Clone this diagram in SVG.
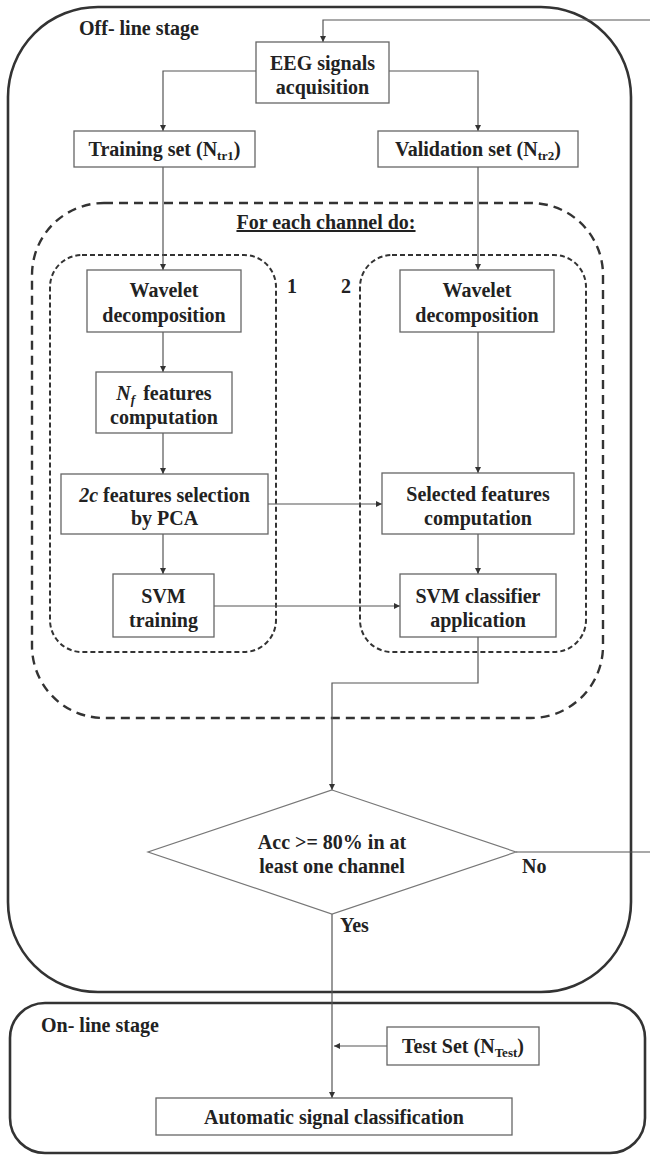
<svg xmlns="http://www.w3.org/2000/svg" width="650" height="1156" viewBox="0 0 650 1156" font-family="Liberation Serif, Times New Roman, DejaVu Serif, serif">
<style>
text{font-family:'Liberation Serif','Times New Roman','DejaVu Serif',serif;font-weight:bold;font-size:20px;fill:#222;}
.c{text-anchor:middle;}
.box{fill:#fff;stroke:#666;stroke-width:1.3;}
.stage{fill:none;stroke:#333;stroke-width:2.6;}
.dash1{fill:none;stroke:#333;stroke-width:2.4;stroke-dasharray:9 6;}
.dash2{fill:none;stroke:#333;stroke-width:2;stroke-dasharray:5 3;}
.conn{fill:none;stroke:#555;stroke-width:1.2;}
.arr{marker-end:url(#ah);}
</style>
<defs>
<marker id="ah" markerWidth="8" markerHeight="8" refX="6" refY="3" orient="auto" markerUnits="userSpaceOnUse">
<path d="M0,0 L6,3 L0,6 z" fill="#333"/>
</marker>
</defs>
<rect width="650" height="1156" fill="#fff"/>

<g id="offline-stage">
<rect class="stage" x="8" y="7" width="623" height="985" rx="90" ry="90"/>
<text x="79" y="35">Off- line stage</text>
</g>
<g id="online-stage">
<rect class="stage" x="10" y="1003" width="635" height="150" rx="35" ry="35"/>
<text x="41" y="1032">On- line stage</text>
</g>
<g id="for-each-channel">
<rect class="dash1" x="32" y="203" width="571" height="515" rx="72" ry="72"/>
<text class="c" x="326" y="229" text-decoration="underline">For each channel do:</text>
</g>
<g id="group-1">
<rect class="dash2" x="50" y="255" width="226" height="397" rx="32" ry="32"/>
<text x="287" y="293">1</text>
</g>
<g id="group-2">
<rect class="dash2" x="360" y="255" width="226" height="397" rx="32" ry="32"/>
<text x="341" y="293">2</text>
</g>

<g id="connectors">
<path class="conn arr" d="M516,852 H652 V20 H323 V42"/>
<path class="conn arr" d="M256,71 H163 V131"/>
<path class="conn arr" d="M389,71 H478 V131"/>
<path class="conn arr" d="M163,167 V270"/>
<path class="conn arr" d="M478,167 V270"/>
<path class="conn arr" d="M163,332 V372"/>
<path class="conn arr" d="M163,433 V474"/>
<path class="conn arr" d="M163,534 V574"/>
<path class="conn arr" d="M478,332 V473"/>
<path class="conn arr" d="M268,504 H382"/>
<path class="conn arr" d="M214,606 H400"/>
<path class="conn arr" d="M478,534 V574"/>
<path class="conn arr" d="M478,637 V683 H332 V790"/>
<path class="conn arr" d="M332,914 V1098"/>
<path class="conn arr" d="M387,1046 H334"/>
</g>

<g id="eeg">
<rect class="box" x="256" y="42" width="133" height="61"/>
<text class="c" x="322.5" y="70">EEG signals</text>
<text class="c" x="322.5" y="94">acquisition</text>
</g>
<g id="training-set">
<rect class="box" x="74" y="131" width="181" height="36"/>
<text class="c" x="164.5" y="156">Training set (N<tspan font-size="13" dy="4">tr1</tspan><tspan dy="-4">)</tspan></text>
</g>
<g id="validation-set">
<rect class="box" x="378" y="131" width="200" height="36"/>
<text class="c" x="478" y="156">Validation set (N<tspan font-size="13" dy="4">tr2</tspan><tspan dy="-4">)</tspan></text>
</g>
<g id="wavelet-1">
<rect class="box" x="87" y="270" width="154" height="62"/>
<text class="c" x="164" y="297">Wavelet</text>
<text class="c" x="164" y="322">decomposition</text>
</g>
<g id="nf-features">
<rect class="box" x="96" y="372" width="136" height="61"/>
<text class="c" x="164" y="400"><tspan font-style="italic">N<tspan font-size="13" dy="4">f</tspan></tspan><tspan dy="-4" dx="8">features</tspan></text>
<text class="c" x="164" y="424">computation</text>
</g>
<g id="pca">
<rect class="box" x="61" y="474" width="207" height="60"/>
<text class="c" x="164.5" y="502"><tspan font-style="italic">2c</tspan> features selection</text>
<text class="c" x="164.5" y="525">by PCA</text>
</g>
<g id="svm-training">
<rect class="box" x="113" y="574" width="101" height="63"/>
<text class="c" x="163.5" y="603">SVM</text>
<text class="c" x="163.5" y="627">training</text>
</g>
<g id="wavelet-2">
<rect class="box" x="400" y="270" width="154" height="62"/>
<text class="c" x="477" y="297">Wavelet</text>
<text class="c" x="477" y="322">decomposition</text>
</g>
<g id="selected-features">
<rect class="box" x="382" y="473" width="192" height="61"/>
<text class="c" x="478" y="501">Selected features</text>
<text class="c" x="478" y="525">computation</text>
</g>
<g id="svm-classifier">
<rect class="box" x="400" y="574" width="156" height="63"/>
<text class="c" x="478" y="603">SVM classifier</text>
<text class="c" x="478" y="627">application</text>
</g>
<g id="decision">
<polygon points="332,790 516,852 332,914 148,852" fill="#fff" stroke="#777" stroke-width="1.2"/>
<text class="c" x="332" y="849">Acc &gt;= 80% in at</text>
<text class="c" x="332" y="873">least one channel</text>
<text x="522" y="873">No</text>
<text x="340" y="932">Yes</text>
</g>
<g id="test-set">
<rect class="box" x="387" y="1027" width="152" height="38"/>
<text class="c" x="463" y="1053">Test Set (N<tspan font-size="13" dy="4">Test</tspan><tspan dy="-4">)</tspan></text>
</g>
<g id="automatic">
<rect class="box" x="156" y="1098" width="356" height="37"/>
<text class="c" x="334" y="1124">Automatic signal classification</text>
</g>
</svg>
